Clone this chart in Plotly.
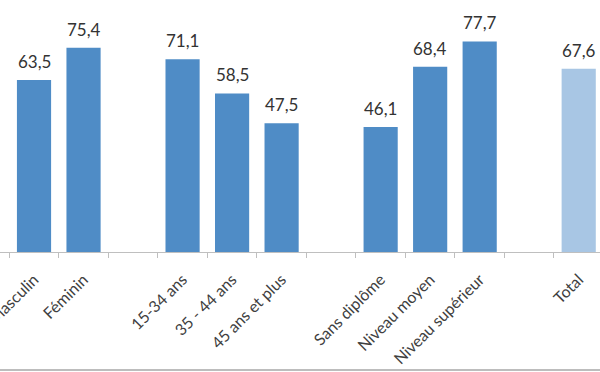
import plotly.graph_objects as go

categories = ["Masculin", "Féminin", " ", "15-34 ans", "35 - 44 ans", "45 ans et plus",
              "  ", "Sans diplôme", "Niveau moyen", "Niveau supérieur", "   ", "Total"]
values = [63.5, 75.4, None, 71.1, 58.5, 47.5, None, 46.1, 68.4, 77.7, None, 67.6]
labels = ["63,5", "75,4", "", "71,1", "58,5", "47,5", "", "46,1", "68,4", "77,7", "", "67,6"]

MAIN = "#4f8cc6"
TOTAL = "#a8c6e4"
colors = [TOTAL if c == "Total" else MAIN for c in categories]

fig = go.Figure()
fig.add_trace(go.Bar(
    x=categories, y=values, marker=dict(color=colors, line=dict(width=0)),
    hoverinfo="skip",
))

for c, v, t in zip(categories, values, labels):
    if v is None:
        continue
    fig.add_annotation(x=c, y=v, text=t, showarrow=False, yanchor="bottom",
                       yshift=6, font=dict(family="Lato", size=17, color="#333333"))

fig.add_shape(type="line", xref="paper", yref="paper", x0=0, x1=1, y0=-0.468, y1=-0.468,
              line=dict(color="#bdbdbd", width=2))

fig.update_layout(
    width=600, height=372,
    margin=dict(l=0, r=0, t=0, b=120),
    paper_bgcolor="white", plot_bgcolor="white",
    bargap=0.31, showlegend=False,
    font=dict(family="Lato", size=16, color="#404040"),
)
fig.update_xaxes(
    type="category", range=[-0.687, 11.43], tickangle=-45,
    ticks="outside", tickson="boundaries", ticklen=5, tickcolor="#bfbfbf",
    showline=True, linecolor="#bfbfbf", linewidth=1,
    showgrid=False, automargin=False, ticklabelstandoff=11,
    tickfont=dict(family="Lato", size=16, color="#404040"),
)
fig.update_yaxes(range=[0, 93], visible=False, showgrid=False, zeroline=False)

fig.write_html("out.html", config={"displayModeBar": False},
               post_script="document.body.style.margin='0';document.body.style.overflow='hidden';")
